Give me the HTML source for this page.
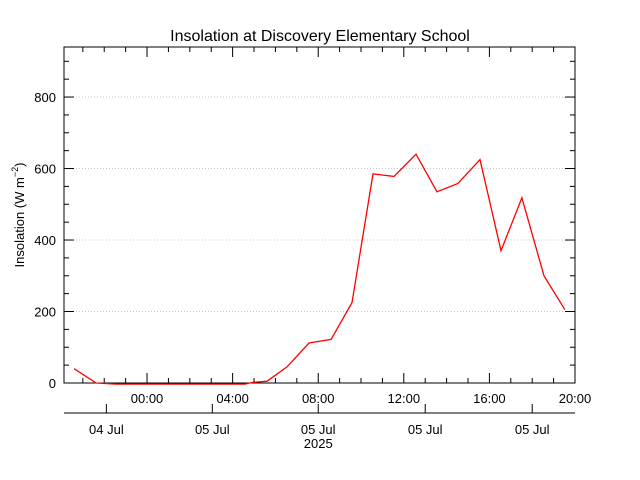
<!DOCTYPE html>
<html><head><meta charset="utf-8"><style>
body{margin:0;background:#fff;}
svg{display:block;font-family:"Liberation Sans",sans-serif;}
</style></head><body>
<svg id="chart" width="640" height="480" xmlns="http://www.w3.org/2000/svg">
<rect width="640" height="480" fill="#fff"/>
<text x="320" y="41" text-anchor="middle" font-size="16">Insolation at Discovery Elementary School</text>
<text transform="translate(24,215) rotate(-90)" text-anchor="middle" font-size="13">Insolation (W m<tspan dy="-6" font-size="9">−2</tspan><tspan dy="6">)</tspan></text>
<g id="grid"></g><g id="axes"></g><g id="series"></g>
</svg>
<script>
const hours = [-3.41,-2.38,-1.45,4.58,4.95,5.61,6.54,7.57,8.6,9.58,10.56,11.54,12.57,13.55,14.53,15.56,16.54,17.52,18.55,19.53];
const values = [40,0,-3,-3,2,5,45,112,122,225,585,578,640,535,558,625,370,518,300,205];
const yTicks = [0,200,400,600,800];
const xTickLabels = ["00:00","04:00","08:00","12:00","16:00","20:00"];
const xTickHours = [0,4,8,12,16,20];
const dateLabels = ["04 Jul","05 Jul","05 Jul","05 Jul","05 Jul"];
const dateHours = [-1.9,3.05,8,13,18];
const L=64,R=575,T=47,B=383,H0=-3.88,H1=20,YMAX=940;
const sx=h=>L+(h-H0)/(H1-H0)*(R-L);
const sy=v=>B-v/YMAX*(B-T);
const NS="http://www.w3.org/2000/svg";
function mk(tag,attrs,parent,txt){const e=document.createElementNS(NS,tag);for(const k in attrs)e.setAttribute(k,attrs[k]);if(txt!==undefined)e.textContent=txt;parent.appendChild(e);return e;}
const grid=document.getElementById('grid'),axes=document.getElementById('axes'),series=document.getElementById('series');
yTicks.forEach(v=>{if(v===0)return;
 const g=mk('line',{x1:L,x2:R,y1:sy(v),y2:sy(v),stroke:'#c8c8c8','stroke-dasharray':'1,2'},grid);
 
 });
const bl=mk('line',{x1:L,x2:R,y1:B,y2:B,stroke:'#000','stroke-dasharray':'3,2'},grid);


const frame=mk('rect',{x:L,y:T,width:R-L,height:B-T,fill:'none',stroke:'#000'},axes);


for(let v=0;v<YMAX;v+=50){const len=v%200===0?10:5;
 mk('line',{x1:L,x2:L+len,y1:sy(v),y2:sy(v),stroke:'#000'},axes);
 mk('line',{x1:R,x2:R-len,y1:sy(v),y2:sy(v),stroke:'#000'},axes);}
yTicks.forEach(v=>{const t=mk('text',{x:L-8,y:sy(v)+5,'text-anchor':'end','font-size':13},axes,String(v));
 
 });
for(let h=-3;h<=20;h++){const len=h%4===0?10:5;
 mk('line',{x1:sx(h),x2:sx(h),y1:B,y2:B-len,stroke:'#000'},axes);
 mk('line',{x1:sx(h),x2:sx(h),y1:T,y2:T+len,stroke:'#000'},axes);}
xTickLabels.forEach((s,i)=>{const t=mk('text',{x:sx(xTickHours[i]),y:B+20,'text-anchor':'middle','font-size':13},axes,s);
 
 });
const dl=mk('line',{x1:L,x2:R,y1:413,y2:413,stroke:'#000'},axes);


dateLabels.forEach((s,i)=>{const x=sx(dateHours[i]);
 mk('line',{x1:x,x2:x,y1:413,y2:404,stroke:'#000'},axes);
 const t=mk('text',{x:x,y:434,'text-anchor':'middle','font-size':13},axes,s);
 
 });
const yr=mk('text',{x:sx(8),y:448,'text-anchor':'middle','font-size':13},axes,'2025');


const pts=hours.map((h,i)=>sx(h).toFixed(1)+','+sy(values[i]).toFixed(1)).join(' ');
const pl=mk('polyline',{points:pts,fill:'none',stroke:'#f00','stroke-width':1.3},series);


</script>
</body></html>
